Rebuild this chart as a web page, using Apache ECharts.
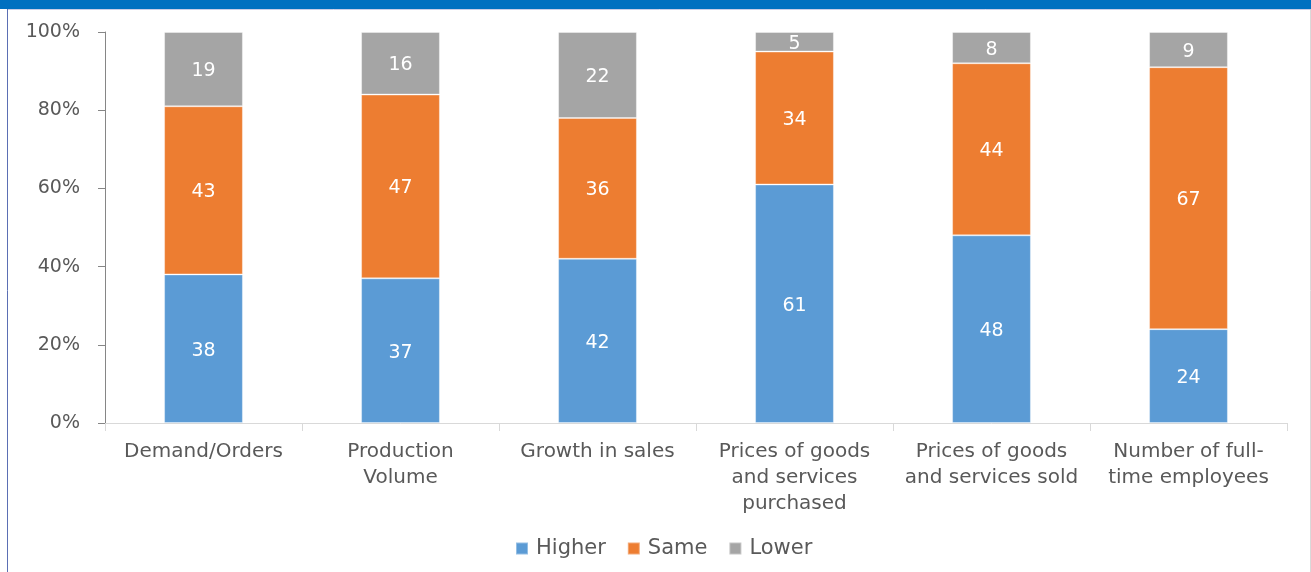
<!DOCTYPE html>
<html>
<head>
<meta charset="utf-8">
<style>
  html, body { margin: 0; padding: 0; background: #ffffff; }
  #chart { width: 1311px; height: 572px; }
</style>
<script src="https://cdn.jsdelivr.net/npm/echarts@6/dist/echarts.min.js"></script>
</head>
<body>
<div id="chart"></div>
<script>
// Survey responses: share of firms reporting higher / same / lower (%)
const categories = [
  'Demand/Orders',
  'Production\nVolume',
  'Growth in sales',
  'Prices of goods\nand services\npurchased',
  'Prices of goods\nand services sold',
  'Number of full-\ntime employees'
];
const higher = [38, 37, 42, 61, 48, 24];
const same   = [43, 47, 36, 34, 44, 67];
const lower  = [19, 16, 22, 5, 8, 9];
const yTicks = [0, 20, 40, 60, 80, 100];

const FONT = 'DejaVu Sans';
const TEXT = '#595959';

const chart = echarts.init(document.getElementById('chart'), null, { renderer: 'canvas' });

function barSeries(name, data, color) {
  return {
    name: name,
    type: 'bar',
    stack: 'total',
    data: data,
    barWidth: '40%',
    itemStyle: { color: color, borderColor: 'rgba(255,255,255,0.35)', borderWidth: 1 },
    label: {
      show: true,
      position: 'inside',
      color: '#ffffff',
      fontFamily: FONT,
      fontSize: 19,
      offset: [0, 2]
    },
    emphasis: { disabled: true }
  };
}

chart.setOption({
  animation: false,
  textStyle: { fontFamily: FONT },
  graphic: [
    { type: 'rect', shape: { x: 0, y: 0, width: 1311, height: 9 }, style: { fill: '#0070C0' }, silent: true },
    { type: 'line', shape: { x1: 7.5, y1: 9, x2: 7.5, y2: 572 }, style: { stroke: '#5b6fb4', lineWidth: 1 }, silent: true },
    { type: 'line', shape: { x1: 1310.5, y1: 9, x2: 1310.5, y2: 572 }, style: { stroke: '#d9d9d9', lineWidth: 1 }, silent: true },
    { type: 'line', shape: { x1: 8, y1: 9.5, x2: 1311, y2: 9.5 }, style: { stroke: '#c9cde6', lineWidth: 1 }, silent: true }
  ],
  grid: { left: 105, right: 24, top: 32, bottom: 149, containLabel: false },
  legend: {
    bottom: 8,
    left: 510,
    itemWidth: 12,
    itemHeight: 12,
    itemGap: 21,
    icon: 'rect',
    textStyle: { color: TEXT, fontFamily: FONT, fontSize: 21, padding: [0, 0, 0, 3] },
    data: ['Higher', 'Same', 'Lower']
  },
  xAxis: {
    type: 'category',
    data: categories,
    axisLine: { lineStyle: { color: '#d9d9d9', width: 1 } },
    axisTick: { show: true, length: 8, lineStyle: { color: '#d9d9d9' } },
    axisLabel: {
      color: TEXT,
      fontFamily: FONT,
      fontSize: 20,
      lineHeight: 26,
      margin: 16,
      interval: 0
    }
  },
  yAxis: {
    type: 'value',
    min: 0,
    max: 100,
    interval: 20,
    axisLine: { show: true, lineStyle: { color: '#868686', width: 1 } },
    axisTick: { show: true, length: 7, lineStyle: { color: '#868686' } },
    splitLine: { show: false },
    axisLabel: {
      color: TEXT,
      fontFamily: FONT,
      fontSize: 19,
      margin: 25,
      formatter: function (v) { return yTicks.indexOf(v) >= 0 ? v + '%' : ''; }
    }
  },
  series: [
    barSeries('Higher', higher, '#5B9BD5'),
    barSeries('Same', same, '#ED7D31'),
    barSeries('Lower', lower, '#A5A5A5')
  ]
});
</script>
</body>
</html>
